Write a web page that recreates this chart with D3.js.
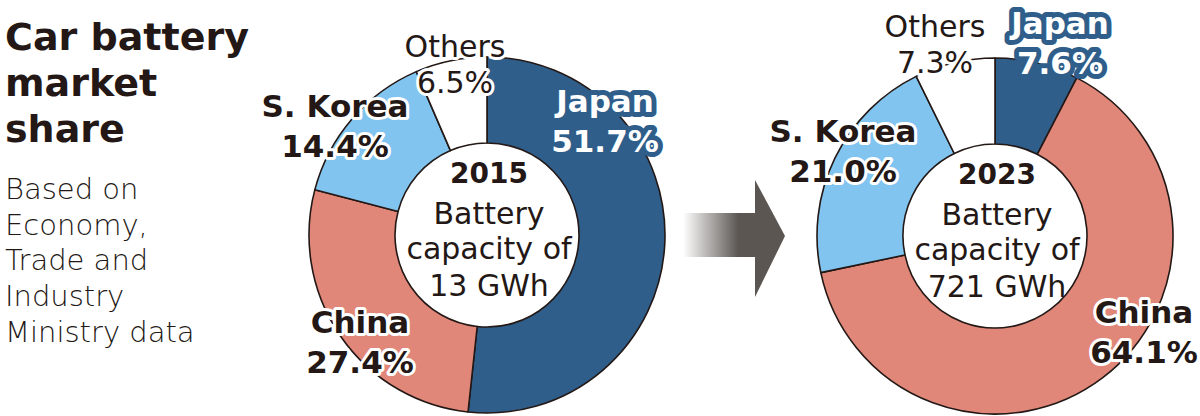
<!DOCTYPE html>
<html>
<head>
<meta charset="utf-8">
<script src="https://cdn.jsdelivr.net/npm/d3@7"></script>
<style>
  body { margin: 0; background: #fff; }
  svg { display: block; }
</style>
</head>
<body>
<div id="vis"></div>
<script>
// data
var regions = ["Japan", "China", "S. Korea", "Others"];
var share2015 = [51.7, 27.4, 14.4, 6.5];
var share2023 = [7.6, 64.1, 21.0, 7.3];
var years = ["2015", "2023"];
var capacities = ["13 GWh", "721 GWh"];
var titleLines = ["Car battery", "market", "share"];
var noteLines = ["Based on", "Economy,", "Trade and", "Industry", "Ministry data"];

var ink = "#231815";
var color = d3.scaleOrdinal()
    .domain(regions)
    .range(["#2f5e8b", "#e0877a", "#80c4ef", "#ffffff"]);

var width = 1200, height = 416;

var svg = d3.select("#vis")
    .append("svg")
    .attr("width", width)
    .attr("height", height);

// title + note
svg.append("g").selectAll("text")
    .data(titleLines)
    .enter().append("text")
    .attr("x", 5)
    .attr("y", function (d, i) { return 50 + i * 46; })
    .style("font-family", "DejaVu Sans")
    .style("font-weight", "bold")
    .style("font-size", "38px")
    .style("fill", ink)
    .text(function (d) { return d; });

svg.append("g").selectAll("text")
    .data(noteLines)
    .enter().append("text")
    .attr("x", 5)
    .attr("y", function (d, i) { return 199 + i * 35.7; })
    .style("font-family", "DejaVu Sans")
    .style("font-weight", "300")
    .style("font-size", "29px")
    .style("fill", ink)
    .text(function (d) { return d; });

// arrow between the two years
var defs = svg.append("defs");
var grad = defs.append("linearGradient")
    .attr("id", "arrowGrad")
    .attr("x1", "0%").attr("x2", "100%");
grad.append("stop").attr("offset", "0%").attr("stop-color", "#ffffff");
grad.append("stop").attr("offset", "75%").attr("stop-color", "#5b5652");
grad.append("stop").attr("offset", "100%").attr("stop-color", "#5b5652");

svg.append("rect")
    .attr("x", 683).attr("y", 213)
    .attr("width", 74).attr("height", 44)
    .style("fill", "url(#arrowGrad)");
svg.append("path")
    .attr("d", "M755,180 L785,236 L755,297 Z")
    .style("fill", "#5b5652");

var pie = d3.pie().sort(null).value(function (d) { return d.value; });
var innerR = 92, outerR = 178;
var arc = d3.arc().innerRadius(innerR).outerRadius(outerR);

// label layout per chart (positions relative to page)
var charts = [
    {cx: 487, cy: 235, values: share2015, year: years[0], cap: capacities[0],
     labels: {
        "Japan":    [605, 112],
        "China":    [360, 333],
        "S. Korea": [335, 117],
        "Others":   [455, 57]
     }},
    {cx: 995, cy: 236, values: share2023, year: years[1], cap: capacities[1],
     labels: {
        "Japan":    [1060, 34],
        "China":    [1144, 323],
        "S. Korea": [843, 142],
        "Others":   [935, 37]
     }}
];

charts.forEach(function (c) {
    var data = regions.map(function (r, i) { return {name: r, value: c.values[i]}; });
    var g = svg.append("g")
        .attr("transform", "translate(" + c.cx + "," + c.cy + ")");

    g.selectAll("path")
        .data(pie(data))
        .enter().append("path")
        .attr("d", arc)
        .style("fill", function (d) { return color(d.data.name); })
        .style("stroke", ink)
        .style("stroke-width", 1.6)
        .style("stroke-linejoin", "round");

    // centre text
    var centre = [
        {t: c.year, w: "bold", y: -52, s: 28},
        {t: "Battery", w: "normal", y: -11, s: 30},
        {t: "capacity of", w: "normal", y: 24, s: 30},
        {t: c.cap, w: "normal", y: 61, s: 30}
    ];
    g.selectAll("text.centre")
        .data(centre)
        .enter().append("text")
        .attr("class", "centre")
        .attr("x", 2)
        .attr("y", function (d) { return d.y; })
        .attr("text-anchor", "middle")
        .style("font-family", "DejaVu Sans")
        .style("font-weight", function (d) { return d.w; })
        .style("font-size", function (d) { return d.s + "px"; })
        .style("fill", ink)
        .text(function (d) { return d.t; });

    // slice labels
    data.forEach(function (d) {
        var pos = c.labels[d.name];
        var isJapan = d.name === "Japan";
        var isOther = d.name === "Others";
        var lines = [d.name, d3.format(".1f")(d.value) + "%"];
        svg.append("g").selectAll("text")
            .data(lines)
            .enter().append("text")
            .attr("x", pos[0])
            .attr("y", function (t, i) { return pos[1] + i * (isOther ? 36 : 40); })
            .attr("text-anchor", "middle")
            .style("font-family", "DejaVu Sans")
            .style("font-weight", isOther ? "normal" : "bold")
            .style("font-size", isOther ? "30px" : "31px")
            .style("fill", isJapan ? "#ffffff" : ink)
            .style("stroke", isJapan ? color("Japan") : "#ffffff")
            .style("stroke-width", isJapan ? 10 : 6)
            .style("stroke-linejoin", "round")
            .style("paint-order", "stroke")
            .text(function (t) { return t; });
    });
});
</script>
</body>
</html>
